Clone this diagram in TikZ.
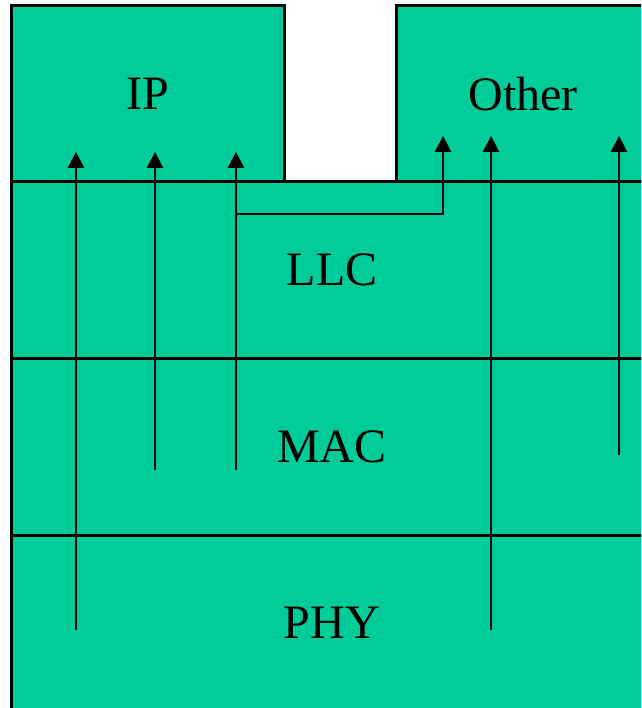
\documentclass[tikz,border=0pt]{standalone}
\usepackage{fontspec}
\setmainfont{Liberation Serif}
\usetikzlibrary{arrows.meta,positioning}
\definecolor{layergreen}{RGB}{0,204,153}
\tikzset{
  layer/.style={draw=black,fill=layergreen,line width=3pt,inner sep=0pt,
                minimum width=642pt,minimum height=176pt,
                text depth=0pt,font=\fontsize{48}{56}\selectfont},
  upper/.style={layer,minimum width=273pt},
  flow/.style={-{Triangle[length=16pt,width=16pt]},line width=2.6pt},
}
\begin{document}
\begin{tikzpicture}[x=1pt,y=-1pt]
  \clip (0,0) rectangle (641,708);
  \fill[white] (0,0) rectangle (641,708);
  % upper protocols
  \node[upper] (ip)    at (147.5,94) {IP};
  \node[upper,minimum width=254pt] (other) at (523,94) {Other};
  % stack
  \node[layer] (llc) at (332,270)   {LLC};
  \node[layer,minimum height=177pt] (mac) at (332,446.5) {MAC};
  \node[layer] (phy) at (332,623)   {PHY};

  % flow end points
  \coordinate (p1) at (76,630);  \coordinate (q1) at (76,152);
  \coordinate (p2) at (155,470); \coordinate (q2) at (155,152);
  \coordinate (p3) at (236,470); \coordinate (q3) at (236,152);
  \coordinate (b3) at (236,214); \coordinate (q4) at (443,136);
  \coordinate (p5) at (491,630); \coordinate (q5) at (491,136);
  \coordinate (p6) at (619,455); \coordinate (q6) at (619,136);

  \draw[flow] (p1) -- (q1);
  \draw[flow] (p2) -- (q2);
  \draw[flow] (p3) -- (q3);
  \draw[flow] (b3) -| (q4);
  \draw[flow] (p5) -- (q5);
  \draw[flow] (p6) -- (q6);
\end{tikzpicture}
\end{document}
